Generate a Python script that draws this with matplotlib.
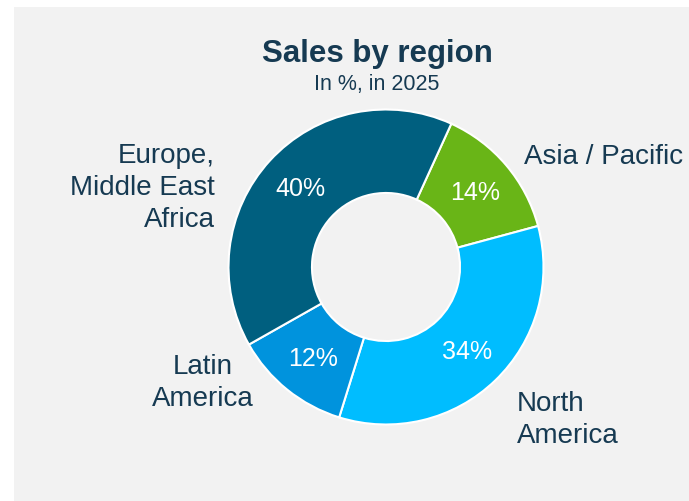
"""Donut chart: sales by region in 2025 (share in %)."""
import matplotlib.pyplot as plt
from matplotlib.patches import Rectangle

# Data
regions = ['Asia / Pacific', 'North\nAmerica', 'Latin\nAmerica', 'Europe,\nMiddle East\nAfrica']
shares = [14, 34, 12, 40]
colors = ['#69b517', '#00bdff', '#0093dd', '#005f7f']

TEXT_COLOR = '#163a52'
plt.rcParams['font.family'] = ['Liberation Sans', 'DejaVu Sans']

W, H = 689, 502
CX, CY, R = 386, 268, 157.5   # pie centre and radius in pixels

fig = plt.figure(figsize=(W / 100, H / 100), dpi=100)
fig.patch.set_facecolor('white')
fig.patches.append(Rectangle((14 / W, 0), 1 - 14 / W, 1 - 8 / H,
                             transform=fig.transFigure, facecolor='#f2f2f2',
                             edgecolor='none', zorder=-10))

ax = fig.add_axes([0, 0, 1, 1])
ax.set_facecolor('none')
wedges, _, pcts = ax.pie(shares, colors=colors, startangle=65.5, counterclock=False,
                         radius=1, autopct=lambda p: f'{p:.0f}%', pctdistance=0.74,
                         wedgeprops=dict(width=0.53, edgecolor='white', linewidth=1.5),
                         textprops=dict(color='white', fontsize=18))
ax.set_aspect('auto')
ax.set_xlim(-CX / R, (W - CX) / R)
ax.set_ylim(-(H - CY) / R, CY / R)
ax.axis('off')


def px(x, y):
    return (x - CX) / R, (CY - y) / R


# outside labels: (pixel anchor, horizontal alignment)
label_pos = [((524, 157), 'left'), ((517, 420), 'left'),
             ((203, 383), 'center'), ((215, 188), 'right')]
for name, ((x, y), ha) in zip(regions, label_pos):
    ax.text(*px(x, y), name, ha=ha, va='center', ma=ha, fontsize=20,
            color=TEXT_COLOR, linespacing=1.3)

fig.text(377 / W, 1 - 62 / H, 'Sales by region', ha='center', va='baseline',
         fontsize=22.5, fontweight='bold', color=TEXT_COLOR)
fig.text(377 / W, 1 - 90 / H, 'In %, in 2025', ha='center', va='baseline',
         fontsize=15.5, color=TEXT_COLOR)

fig.savefig('out.png', dpi=100)
